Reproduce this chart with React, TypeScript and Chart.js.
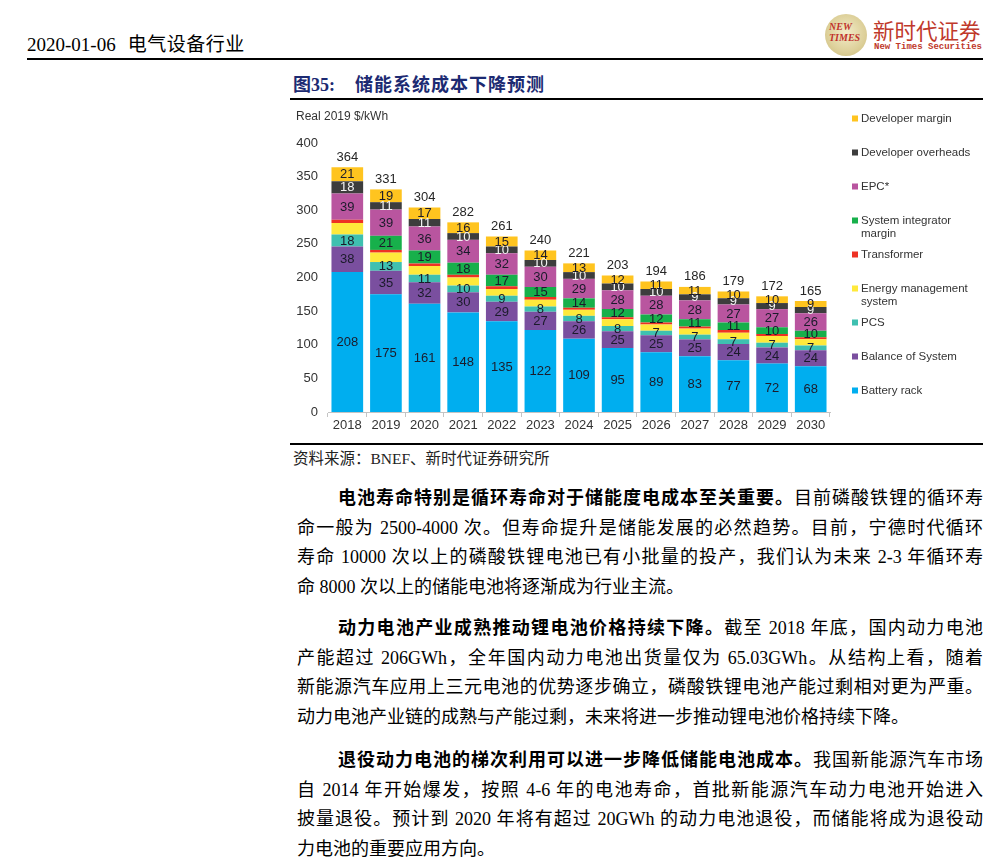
import React, { useEffect, useRef } from "react";
import { Chart, registerables } from "chart.js";

Chart.register(...registerables);

// ---------- data ----------
const years = ["2018", "2019", "2020", "2021", "2022", "2023", "2024", "2025", "2026", "2027", "2028", "2029", "2030"];
const batteryRack = [208, 175, 161, 148, 135, 122, 109, 95, 89, 83, 77, 72, 68];
const balanceOfSystem = [38, 35, 32, 30, 29, 27, 26, 25, 25, 25, 24, 24, 24];
const pcs = [18, 13, 11, 10, 9, 8, 8, 8, 7, 7, 7, 7, 7];
const energyManagement = [17, 14, 13, 12, 10, 10, 9, 10, 9, 9, 10, 10, 9];
const transformer = [5, 4, 4, 4, 4, 4, 3, 3, 3, 3, 4, 3, 3];
const systemIntegratorMargin = [0, 21, 19, 18, 17, 15, 14, 12, 12, 11, 11, 10, 10];
const epc = [39, 39, 36, 34, 32, 30, 29, 28, 28, 28, 27, 27, 26];
const developerOverheads = [18, 11, 11, 10, 10, 10, 10, 10, 10, 9, 9, 9, 9];
const developerMargin = [21, 19, 17, 16, 15, 14, 13, 12, 11, 11, 10, 10, 9];
const totals = [364, 331, 304, 282, 261, 240, 221, 203, 194, 186, 179, 172, 165];
const yTicks = [0, 50, 100, 150, 200, 250, 300, 350, 400];
const unitLabel = "Real 2019 $/kWh";

const seriesNames = [
  "Battery rack",
  "Balance of System",
  "PCS",
  "Energy management system",
  "Transformer",
  "System integrator margin",
  "EPC*",
  "Developer overheads",
  "Developer margin",
];
// legend lines, top to bottom (wrapped as in the reference)
const legendLines = [
  ["Developer margin"],
  ["Developer overheads"],
  ["EPC*"],
  ["System integrator", "margin"],
  ["Transformer"],
  ["Energy management", "system"],
  ["PCS"],
  ["Balance of System"],
  ["Battery rack"],
];

const seriesColors = ["#00AEEF", "#7A4F9F", "#3FC0B0", "#FFE93B", "#EE3224", "#17B04B", "#B9559F", "#3D3D3D", "#FFC41F"];
const labelColors = ["#1b1b2b", "#1b1b2b", "#1b1b2b", "", "", "#1b1b2b", "#1b1b2b", "#f4f4f4", "#1b1b2b"];

const para1Lead = "电池寿命特别是循环寿命对于储能度电成本至关重要。";
const para1Lines = [
  "目前磷酸铁锂的循环寿",
  "命一般为 2500-4000 次。但寿命提升是储能发展的必然趋势。目前，宁德时代循环",
  "寿命 10000 次以上的磷酸铁锂电池已有小批量的投产，我们认为未来 2-3 年循环寿",
  "命 8000 次以上的储能电池将逐渐成为行业主流。",
];
const para2Lead = "动力电池产业成熟推动锂电池价格持续下降。";
const para2Lines = [
  "截至 2018 年底，国内动力电池",
  "产能超过 206GWh，全年国内动力电池出货量仅为 65.03GWh。从结构上看，随着",
  "新能源汽车应用上三元电池的优势逐步确立，磷酸铁锂电池产能过剩相对更为严重。",
  "动力电池产业链的成熟与产能过剩，未来将进一步推动锂电池价格持续下降。",
];
const para3Lead = "退役动力电池的梯次利用可以进一步降低储能电池成本。";
const para3Lines = [
  "我国新能源汽车市场",
  "自 2014 年开始爆发，按照 4-6 年的电池寿命，首批新能源汽车动力电池开始进入",
  "披量退役。预计到 2020 年将有超过 20GWh 的动力电池退役，而储能将成为退役动",
  "力电池的重要应用方向。",
];

const FONT = "'Liberation Sans', Arial, sans-serif";
const SERIF = "'Liberation Serif', 'Noto Sans CJK SC', serif";

const barLabelPlugin = {
  id: "barLabels",
  afterDatasetsDraw(chart: any) {
    const ctx = chart.ctx;
    ctx.save();
    ctx.font = `13px ${FONT}`;
    ctx.textAlign = "center";
    ctx.textBaseline = "middle";
    chart.data.datasets.forEach((ds: any, di: number) => {
      const color = labelColors[di];
      if (!color) return;
      const meta = chart.getDatasetMeta(di);
      meta.data.forEach((bar: any, i: number) => {
        const v = ds.data[i];
        if (!v) return;
        const p = bar.getProps(["x", "y", "base"], true);
        ctx.fillStyle = color;
        ctx.fillText(String(v), p.x, (p.y + p.base) / 2 + 0.5);
      });
    });
    const topMeta = chart.getDatasetMeta(chart.data.datasets.length - 1);
    ctx.fillStyle = "#262626";
    topMeta.data.forEach((bar: any, i: number) => {
      const p = bar.getProps(["x", "y"], true);
      ctx.fillText(String(totals[i]), p.x, p.y - 10);
    });
    ctx.restore();
  },
  afterDraw(chart: any) {
    const ctx = chart.ctx;
    ctx.save();
    // unit label
    ctx.font = `12px ${FONT}`;
    ctx.fillStyle = "#333333";
    ctx.textAlign = "left";
    ctx.textBaseline = "middle";
    ctx.fillText(unitLabel, 6, 17);
    // legend
    ctx.font = `11.5px ${FONT}`;
    const n = legendLines.length;
    legendLines.forEach((lines, k) => {
      const di = n - 1 - k;
      const y = 18.5 + k * 34;
      ctx.fillStyle = seriesColors[di];
      ctx.fillRect(562, y - 3, 6, 6);
      ctx.fillStyle = "#333333";
      lines.forEach((t, j) => ctx.fillText(t, 571, y + j * 13.5));
    });
    ctx.restore();
  },
};

function ChartBox() {
  const ref = useRef<HTMLCanvasElement>(null);
  useEffect(() => {
    const data = [
      batteryRack,
      balanceOfSystem,
      pcs,
      energyManagement,
      transformer,
      systemIntegratorMargin,
      epc,
      developerOverheads,
      developerMargin,
    ];
    const chart = new Chart(ref.current as HTMLCanvasElement, {
      type: "bar",
      data: {
        labels: years,
        datasets: data.map((d, i) => ({
          label: seriesNames[i],
          data: d,
          backgroundColor: seriesColors[i],
          borderWidth: 0,
          barPercentage: 0.82,
          categoryPercentage: 1,
        })),
      },
      options: {
        responsive: false,
        animation: false,
        devicePixelRatio: 1,
        layout: { padding: { top: 43, right: 160, left: 0, bottom: 0 } },
        plugins: { legend: { display: false }, tooltip: { enabled: false } },
        scales: {
          x: {
            stacked: true,
            grid: { display: true, drawOnChartArea: false, drawTicks: true, tickLength: 5, color: "#c4c4c4", offset: true },
            border: { display: true, color: "#c4c4c4", width: 1 },
            ticks: { font: { size: 13, family: FONT }, color: "#333333", padding: 1, maxRotation: 0 },
            afterFit: (s: any) => {
              s.height = 30;
            },
          },
          y: {
            stacked: true,
            min: 0,
            max: 400,
            grid: { display: false },
            border: { display: false },
            afterBuildTicks: (s: any) => {
              s.ticks = yTicks.map((v) => ({ value: v }));
            },
            ticks: { font: { size: 13, family: FONT }, color: "#333333", padding: 2 },
            afterFit: (s: any) => {
              s.width = 38;
            },
          },
        },
      },
      plugins: [barLabelPlugin],
    });
    return () => chart.destroy();
  }, []);
  return <canvas ref={ref} width={700} height={342} style={{ position: "absolute", left: 290, top: 100, width: 700, height: 342 }} />;
}

function Para({ top, lead, lines }: { top: number; lead: string; lines: string[] }) {
  return (
    <div style={{ position: "absolute", left: 297, top, width: 686, fontFamily: SERIF, fontSize: 18, color: "#000" }}>
      {lines.map((t, i) => {
        const last = i === lines.length - 1;
        return (
          <div
            key={i}
            style={{
              height: 29.5,
              lineHeight: "29.5px",
              paddingLeft: i === 0 ? 41 : 0,
              textAlign: "justify",
              textAlignLast: last ? "left" : "justify",
            }}
          >
            {i === 0 ? <b>{lead}</b> : null}
            {t}
          </div>
        );
      })}
    </div>
  );
}

export default function App() {
  useEffect(() => {
    document.body.style.overflow = "hidden";
  }, []);
  return (
    <div style={{ position: "absolute", left: 0, top: 0, width: 1002, height: 863, background: "#fff", overflow: "hidden" }}>
      {/* header */}
      <div style={{ position: "absolute", left: 27, top: 34, fontFamily: SERIF, fontSize: 19, lineHeight: "22px", color: "#000", whiteSpace: "nowrap" }}>
        2020-01-06<span style={{ display: "inline-block", width: 12 }} />
        <span style={{ letterSpacing: 0.5 }}>电气设备行业</span>
      </div>
      <div style={{ position: "absolute", left: 27, top: 58, width: 956, height: 2, background: "#000" }} />
      {/* logo */}
      <div
        style={{
          position: "absolute",
          left: 825,
          top: 14,
          width: 42,
          height: 42,
          borderRadius: "50%",
          background: "radial-gradient(circle at 50% 45%, #f3ecc9 0%, #ddd09a 60%, #c8b877 100%)",
        }}
      />
      <div style={{ position: "absolute", left: 829, top: 22, fontFamily: SERIF, fontStyle: "italic", fontSize: 10, lineHeight: "10px", color: "#c0322c", fontWeight: 700 }}>
        NEW
      </div>
      <div style={{ position: "absolute", left: 829, top: 33, fontFamily: SERIF, fontStyle: "italic", fontSize: 10, lineHeight: "10px", color: "#c0322c", fontWeight: 700 }}>
        TIMES
      </div>
      <div style={{ position: "absolute", left: 873, top: 17, fontFamily: "'Noto Sans CJK SC', sans-serif", fontSize: 21.5, lineHeight: "26px", color: "#c0392b", whiteSpace: "nowrap" }}>
        新时代证券
      </div>
      <div style={{ position: "absolute", left: 874, top: 42, fontFamily: "'Liberation Mono', monospace", fontSize: 9, lineHeight: "10px", color: "#c0392b", fontWeight: 700, whiteSpace: "nowrap" }}>
        New Times Securities
      </div>
      {/* figure title */}
      <div style={{ position: "absolute", left: 293, top: 74, fontFamily: SERIF, fontSize: 18, lineHeight: "22px", color: "#1c2a72", fontWeight: 700, whiteSpace: "nowrap" }}>
        图35:<span style={{ display: "inline-block", width: 20 }} />
        <span style={{ letterSpacing: 1 }}>储能系统成本下降预测</span>
      </div>
      <div style={{ position: "absolute", left: 290, top: 98, width: 693, height: 1.5, background: "#000" }} />
      <ChartBox />
      <div style={{ position: "absolute", left: 290, top: 443, width: 693, height: 1.5, background: "#000" }} />
      <div style={{ position: "absolute", left: 293, top: 449, fontFamily: SERIF, fontSize: 15.5, lineHeight: "20px", color: "#222", whiteSpace: "nowrap" }}>
        资料来源：BNEF、新时代证券研究所
      </div>
      <Para top={484} lead={para1Lead} lines={para1Lines} />
      <Para top={614} lead={para2Lead} lines={para2Lines} />
      <Para top={746} lead={para3Lead} lines={para3Lines} />
    </div>
  );
}
